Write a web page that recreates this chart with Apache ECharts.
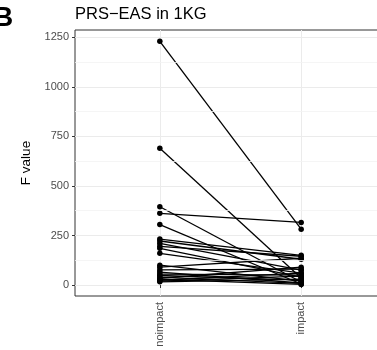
<!DOCTYPE html>
<html>
<head>
<meta charset="utf-8">
<script src="https://cdn.jsdelivr.net/npm/echarts@6/dist/echarts.min.js"></script>
<style>
  html, body { margin: 0; padding: 0; background: #fff; }
  #chart { width: 377px; height: 350px; }
</style>
</head>
<body>
<div id="chart"></div>
<script>
// Paired F values per PRS: noimpact vs impact
const groups = ['noimpact', 'impact'];
const noimpactF = [1230, 690, 395, 362, 305, 232, 222, 210, 195, 185, 160, 100, 90, 76, 65, 55, 48, 40, 34, 29, 24, 20, 16];
const impactF   = [282,   35,  15, 316,   5, 150, 130,  75, 145,  40,  60,  20, 135,  80, 10, 50, 25,  8, 90,  3, 60, 45, 30];
const yTicks = [0, 250, 500, 750, 1000, 1250];
const yMinorGrid = [125, 375, 625, 875, 1125];

const FONT = '"Liberation Sans", Arial, sans-serif';

const pairSeries = noimpactF.map((v, i) => ({
  type: 'line',
  data: [[1, v], [2, impactF[i]]],
  symbol: 'circle',
  symbolSize: 5.5,
  lineStyle: { color: '#000', width: 1.3 },
  itemStyle: { color: '#000' },
  silent: true,
  animation: false,
  z: 3
}));

const minorGridSeries = {
  type: 'line',
  data: [],
  silent: true,
  animation: false,
  markLine: {
    silent: true,
    symbol: 'none',
    animation: false,
    label: { show: false },
    lineStyle: { color: '#f2f2f2', width: 0.8, type: 'solid' },
    data: yMinorGrid.map(v => ({ yAxis: v }))
  },
  z: 1
};

const chart = echarts.init(document.getElementById('chart'), null, { renderer: 'canvas' });
chart.setOption({
  animation: false,
  backgroundColor: '#fff',
  grid: {
    left: 75, top: 30, width: 311, height: 266,
    outerBoundsMode: 'none',
    show: true, borderColor: '#333', borderWidth: 1, backgroundColor: '#fff',
    containLabel: false
  },
  graphic: [
    { type: 'text', left: -7, top: 4, style: { text: 'B', font: 'bold 28px ' + FONT, fill: '#000' } },
    { type: 'text', x: 75, y: 14, style: { text: 'PRS\u2212EAS in 1KG', font: '16.5px ' + FONT, fill: '#000', verticalAlign: 'middle' } }
  ],
  xAxis: {
    type: 'value',
    min: 0.4, max: 2.6,
    axisLine: { show: false },
    axisTick: { show: true, customValues: [1, 2], length: 3, lineStyle: { color: '#333' } },
    axisLabel: {
      customValues: [1, 2],
      formatter: v => groups[Math.round(v) - 1],
      rotate: 90, margin: 6,
      color: '#4d4d4d', fontSize: 11, fontFamily: FONT
    },
    splitLine: { show: true, lineStyle: { color: '#ebebeb', width: 1 } }
  },
  yAxis: {
    type: 'value',
    name: 'F value',
    nameLocation: 'middle',
    nameGap: 37,
    nameTextStyle: { fontSize: 13.5, fontFamily: FONT, color: '#000' },
    min: -55.5, max: 1287,
    axisLine: { show: false },
    axisTick: { show: true, customValues: yTicks, length: 3, lineStyle: { color: '#333' } },
    axisLabel: {
      customValues: yTicks,
      formatter: v => String(v),
      margin: 6, color: '#4d4d4d', fontSize: 11, fontFamily: FONT
    },
    splitLine: { show: true, lineStyle: { color: '#ebebeb', width: 1 } }
  },
  series: [minorGridSeries].concat(pairSeries)
});
</script>
</body>
</html>
